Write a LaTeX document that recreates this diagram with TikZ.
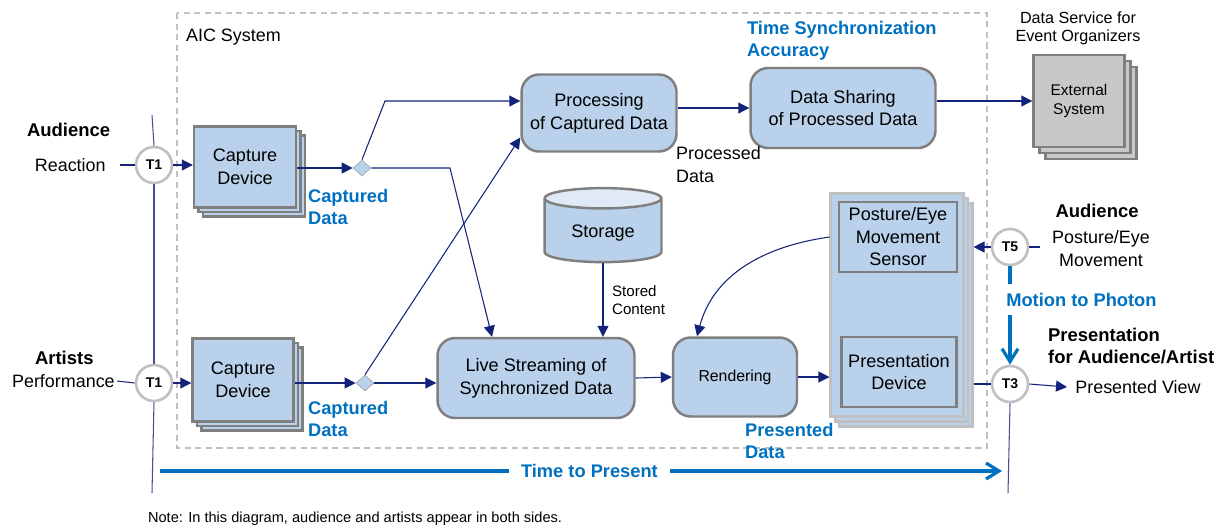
\documentclass[tikz,border=0pt]{standalone}
\usepackage{fontspec}
\setmainfont{Liberation Sans}
\usetikzlibrary{arrows.meta,shapes.geometric,shadows,positioning}

\definecolor{boxfill}{HTML}{B9D1EA}
\definecolor{boxline}{HTML}{7F7F7F}
\definecolor{linknavy}{HTML}{14237A}
\definecolor{tagblue}{HTML}{0070C0}
\definecolor{extfill}{HTML}{C8C8C8}
\definecolor{ringgray}{HTML}{C0C0C0}

\begin{document}
\begin{tikzpicture}[x=0.02cm, y=-0.02cm,
    plain/.style={font=\fontsize{10.2}{13}\selectfont, align=center, inner sep=1pt},
    small/.style={font=\fontsize{8.6}{10.4}\selectfont, align=left, inner sep=1pt},
    head/.style={font=\fontsize{10.5}{13}\selectfont\bfseries, align=left, inner sep=1pt},
    tag/.style={font=\fontsize{10.4}{12.6}\selectfont\bfseries, text=tagblue, align=left, inner sep=1pt},
    procbox/.style={draw=boxline, line width=1.4pt, fill=boxfill, rounded corners=10pt, align=center, font=\fontsize{10.3}{13}\selectfont},
    devbox/.style={draw=boxline, line width=1.4pt, fill=boxfill, align=center, font=\fontsize{10.3}{13}\selectfont,
        double copy shadow={shadow xshift=0.09cm, shadow yshift=-0.09cm}},
    extbox/.style={draw=boxline, line width=1.4pt, fill=extfill, align=center, font=\fontsize{8.8}{10.4}\selectfont,
        double copy shadow={shadow xshift=0.12cm, shadow yshift=-0.12cm}},
    stackbox/.style={draw=ringgray, line width=1.2pt, fill=boxfill,
        double copy shadow={shadow xshift=0.09cm, shadow yshift=-0.1cm}},
    innerbox/.style={draw=boxline, line width=1.5pt, fill=boxfill, align=center, font=\fontsize{10.3}{12.8}\selectfont},
    ring/.style={circle, draw=ringgray, line width=1.5pt, fill=white, inner sep=0pt, minimum size=0.72cm,
        font=\fontsize{8}{9}\selectfont\bfseries},
    joint/.style={diamond, draw=boxline!70, line width=0.4pt, fill=boxfill, inner sep=0pt,
        minimum width=0.36cm, minimum height=0.32cm},
    aicframe/.style={draw=ringgray, line width=1.4pt, dash pattern=on 3.5pt off 2.5pt},
    conn/.style={draw=linknavy, line width=0.6pt},
    flow/.style={conn, -{Triangle[length=0.22cm,width=0.22cm]}},
    span/.style={draw=tagblue, line width=1.8pt, -{Straight Barb[length=0.26cm,width=0.32cm]}}]

    % Fix the picture size
    \useasboundingbox (0,0) rectangle (1222,529);

    % Draw the AIC system frame
    \draw[aicframe] (177,13) rectangle (987,448);
    \node[plain, anchor=west] (aic) at (184,37) {AIC System};

    % Define the free ends of the lines
    \coordinate (leftTop) at (152,115);
    \coordinate (leftBot) at (152,493);
    \coordinate (rightBot) at (1008,493);
    \coordinate (kneeA) at (385,101);
    \coordinate (kneeB) at (450,168);
    \coordinate (ttpStart) at (160,471);
    \coordinate (ttpEnd) at (1002,471);

    % Place the inputs on the left
    \node[head, anchor=west] (audA) at (25,130) {Audience};
    \node[plain, anchor=east, inner xsep=0.28cm] (reactA) at (120,165) {Reaction};
    \node[head, anchor=west] (artB) at (33,358) {Artists};
    \node[plain, anchor=west] (perfB) at (10,381) {Performance};
    \node[ring] (t1a) at (154,165) {T1};
    \node[ring] (t1b) at (154,383) {T1};

    % Place the capture devices and the joints
    \node[devbox, minimum width=2.04cm, minimum height=1.62cm] (capA) at (245,167) {Capture\\Device};
    \node[devbox, minimum width=2.02cm, minimum height=1.66cm] (capB) at (243,380) {Capture\\Device};
    \node[joint] (dA) at (362,168) {};
    \node[joint] (dB) at (365,383) {};
    \node[tag, anchor=west] (capLblA) at (306,207) {Captured\\Data};
    \node[tag, anchor=west] (capLblB) at (306,419) {Captured\\Data};

    % Place the processing boxes
    \node[procbox, minimum width=3.1cm, minimum height=1.54cm] (proc) at (599,113) {Processing\\of Captured Data};
    \node[procbox, minimum width=3.7cm, minimum height=1.6cm] (share) at (843,108) {Data Sharing\\of Processed Data};
    \node[procbox, minimum width=3.94cm, minimum height=1.6cm] (live) at (536,378) {Live Streaming of\\Synchronized Data};
    \node[procbox, minimum width=2.48cm, minimum height=1.58cm, font=\fontsize{9}{10}\selectfont] (render) at (735,377) {Rendering};
    \node[plain, anchor=west, align=left] (procLbl) at (674,165) {Processed\\Data};
    \node[tag, anchor=west] (tsa) at (745,41) {Time Synchronization\\Accuracy};

    % Place the storage
    \node[cylinder, shape border rotate=90, aspect=0.27, draw=boxline, line width=1.4pt,
        cylinder uses custom fill, cylinder body fill=boxfill, cylinder end fill=boxfill!45!white,
        minimum width=2.34cm, minimum height=1.48cm, font=\fontsize{10.3}{13}\selectfont] (storage) at (603,233) {Storage};
    \node[small, anchor=west] (storedLbl) at (610,300) {Stored\\Content};

    % Place the external system
    \node[extbox, minimum width=1.82cm, minimum height=1.84cm] (ext) at (1079,101) {External\\System};
    \node[small, align=center, font=\fontsize{9.2}{10.4}\selectfont] (dsLbl) at (1078,28) {Data Service for\\Event Organizers};

    % Place the presentation stack
    \node[stackbox, minimum width=2.66cm, minimum height=4.46cm] (stack) at (897,305) {};
    \node[innerbox, minimum width=2.36cm, minimum height=1.38cm] (sensor) at (898,237) {Posture/Eye\\Movement\\Sensor};
    \node[innerbox, minimum width=2.3cm, minimum height=1.4cm] (present) at (899,372) {Presentation\\Device};
    \node[tag, anchor=west] (presLbl) at (743,441) {Presented\\Data};
    \coordinate (stackR) at ([xshift=0.18cm]stack.east);

    % Place the outputs on the right
    \node[ring] (t5) at (1010,247) {T5};
    \node[ring] (t3) at (1010,384) {T3};
    \node[head, anchor=center] (audT5) at (1097,211) {Audience};
    \node[plain] (postT5) at (1101,249) {Posture/Eye\\Movement};
    \coordinate (postL) at ([xshift=-0.2cm]postT5.west);
    \node[head, anchor=west] (presAud) at (1046,346) {Presentation\\for Audience/Artist};
    \node[plain, anchor=west, inner xsep=0.16cm] (view) at (1067,387) {Presented View};

    % Draw the time lines
    \draw[conn, draw=linknavy!80] (leftTop) -- (t1a.north);
    \draw[conn, draw=linknavy!80] (t1a.south) -- (t1b.north);
    \draw[conn, draw=linknavy!80] (t1b.south) -- (leftBot);
    \draw[conn, draw=linknavy!80] (t3.south) -- (rightBot);

    % Draw the capture flows
    \draw[conn] (reactA.east) -- (t1a.west);
    \draw[conn] (perfB.east) -- (t1b.west);
    \draw[flow] (t1a.east) -- (t1a.east -| capA.west);
    \draw[flow] (t1b.east) -- (t1b.east -| capB.west);
    \draw[flow] (capA.east |- dA.west) -- (dA.west);
    \draw[flow] (capB.east |- dB.west) -- (dB.west);
    \draw[flow] (dA.north) -- (kneeA) -- (kneeA -| proc.west);
    \draw[flow] (dA.east) -- (kneeB) -- ([xshift=-0.88cm]live.north);
    \draw[flow] (dB.north) -- ([yshift=-0.49cm]proc.west);
    \draw[flow] (dB.east) -- (dB.east -| live.west);

    % Draw the processing flows
    \draw[flow] (share.west -| proc.east) -- (share.west);
    \draw[flow] (ext.west -| share.east) -- (ext.west);
    \draw[flow] (storage.south) -- (storage.south |- live.north);
    \draw[flow] (live.east) -- (render.west);
    \draw[flow] (render.east) -- (render.east -| stack.west);
    \draw[flow] (sensor.west -| stack.west) to[out=188, in=75] ([xshift=-0.76cm]render.north);

    % Draw the sensor and presentation links
    \draw[conn] (postL |- t5.east) -- (t5.east);
    \draw[flow] (t5.west) -- (stackR |- t5.west);
    \draw[conn] (stackR |- t3.west) -- (t3.west);
    \draw[flow] (t3.east) -- (view.west);

    % Draw the latency spans
    \draw[span] (t5.south) -- node[tag, pos=0.34, anchor=west, xshift=-0.14cm, fill=white, inner ysep=5pt] (m2p) {Motion to Photon} (t3.north);
    \draw[span] (ttpStart) -- node[tag, pos=0.51, fill=white, inner xsep=7pt] (ttp) {Time to Present} (ttpEnd);

    % Add the note
    \node[small, anchor=west, font=\fontsize{8.3}{10}\selectfont] (note) at (146,519) {Note: In this diagram, audience and artists appear in both sides.};

\end{tikzpicture}
\end{document}
